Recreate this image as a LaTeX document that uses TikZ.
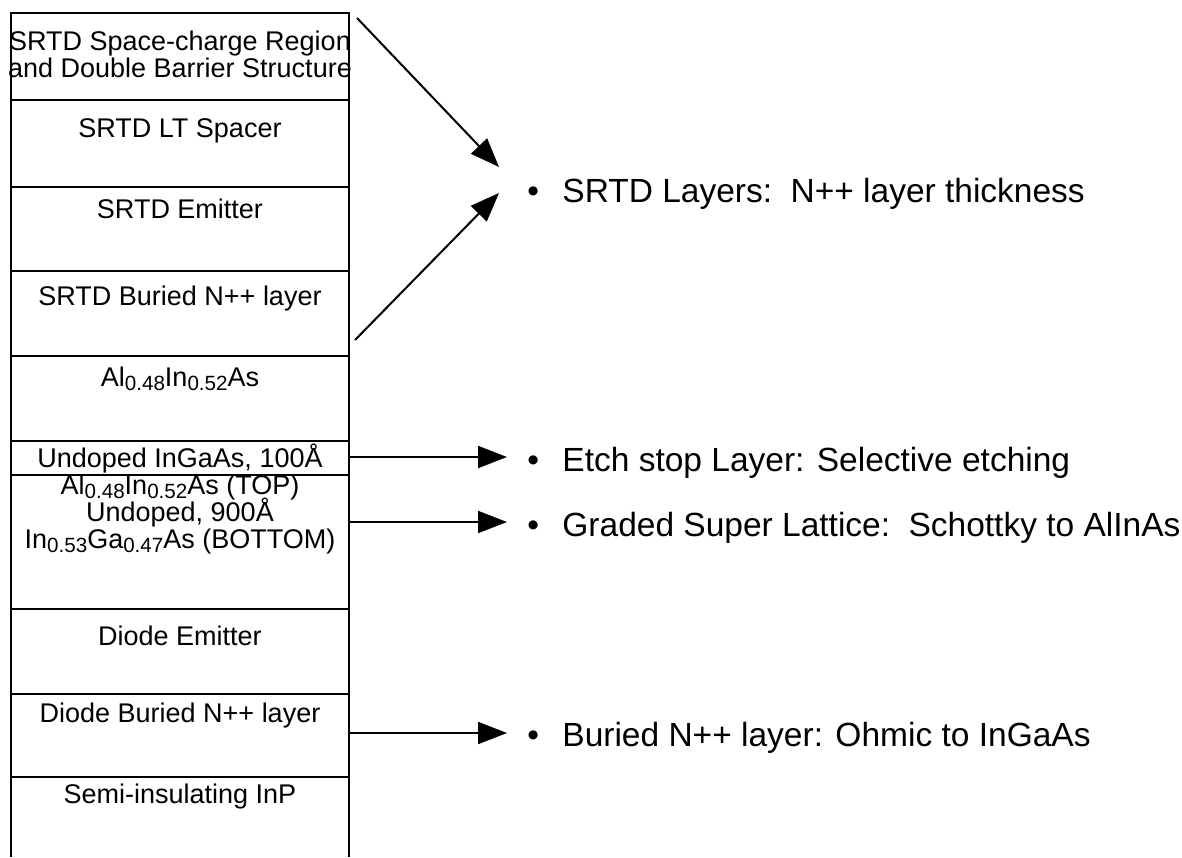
\documentclass[tikz,border=0pt]{standalone}
\usepackage{fontspec}
\setmainfont{Liberation Sans}
\usetikzlibrary{arrows.meta}
\newcommand{\sbx}[1]{\raisebox{-2pt}{\fontsize{10.3pt}{10.3pt}\selectfont #1}}
\newcommand{\wsp}{\hspace{0.55em}}
\newcommand{\blt}{•\hspace{11.65pt}}
\newcommand{\threelines}{\vtop{\lineskiplimit=-100pt\relax\baselineskip=13.5pt\relax
  \halign{\hfil##\hfil\cr
  Al\sbx{0.48}In\sbx{0.52}As (TOP)\cr
  Undoped, 900Å\cr
  In\sbx{0.53}Ga\sbx{0.47}As (BOTTOM)\cr}}}
\begin{document}
\begin{tikzpicture}[x=0.5pt,y=-0.5pt,
  box/.style={line width=0.8pt},
  lay/.style={anchor=base, inner sep=0pt, font=\fontsize{13.5pt}{13.5pt}\selectfont},
  note/.style={anchor=base west, inner sep=0pt, font=\fontsize{16.75pt}{16.75pt}\selectfont},
  arr/.style={line width=1pt, -{Triangle[length=14.5pt,width=11pt]}}]
\useasboundingbox (0,0) rectangle (1182,857);
\fill[white] (0,0) rectangle (1182,857);
% layer stack
\draw[box] (11,857) -- (11,13) -- (349,13) -- (349,857);
\foreach \yy in {100,187,271,356,441,475,609,694,777}
  \draw[box] (11,\yy) -- (349,\yy);
% layer texts
\node[lay] (t1a) at (180,50) {SRTD Space-charge Region};
\node[lay] (t1b) at (180,77) {and Double Barrier Structure};
\node[lay] (t2) at (180,137) {SRTD LT Spacer};
\node[lay] (t3) at (180,218) {SRTD Emitter};
\node[lay] (t4) at (180,305) {SRTD Buried N++ layer};
\node[lay] (t5) at (180,386) {Al\sbx{0.48}In\sbx{0.52}As};
\node[lay] (t6) at (180,467) {Undoped InGaAs, 100Å};
\node[lay] (t7) at (180,494) {\threelines};
\node[lay] (t8) at (180,645) {Diode Emitter};
\node[lay] (t9) at (180,722) {Diode Buried N++ layer};
\node[lay] (t10) at (180,803) {Semi-insulating InP};
% notes
\node[note] (n1) at (527,202) {\blt SRTD Layers:\wsp N++ layer thickness};
\node[note] (n2) at (527,471) {\blt Etch stop Layer: Selective etching};
\node[note] (n3) at (527,536) {\blt Graded Super Lattice:\wsp Schottky to AlInAs};
\node[note] (n4) at (527,746) {\blt Buried N++ layer: Ohmic to InGaAs};
% connector ends
\coordinate (a1s) at (357,18);
\coordinate (a1e) at (499,167);
\coordinate (a2s) at (355,340);
\coordinate (a2e) at (499,193);
\coordinate (e2s) at (349,457);
\coordinate (e2e) at (507,457);
\coordinate (e3s) at (349,522);
\coordinate (e3e) at (507,522);
\coordinate (e4s) at (349,733);
\coordinate (e4e) at (507,733);
\draw[arr] (a1s) -- (a1e);
\draw[arr] (a2s) -- (a2e);
\draw[arr] (e2s) -- (e2e);
\draw[arr] (e3s) -- (e3e);
\draw[arr] (e4s) -- (e4e);
\end{tikzpicture}
\end{document}
